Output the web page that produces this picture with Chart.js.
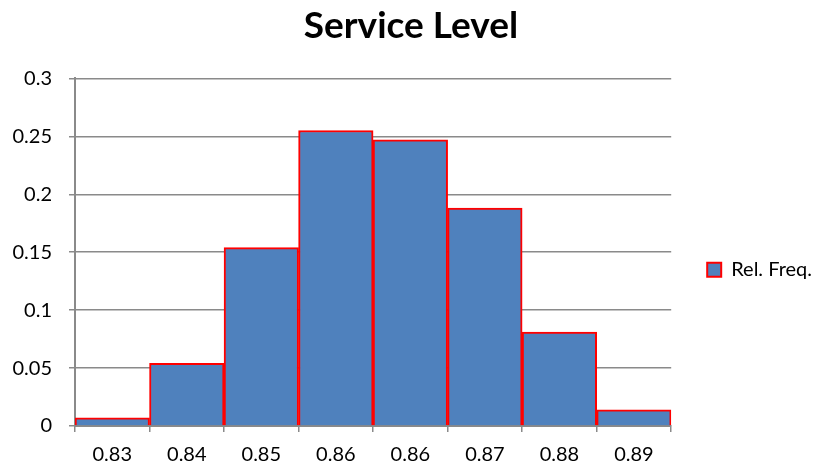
<!DOCTYPE html>
<html><head><meta charset="utf-8">
<script src="https://cdn.jsdelivr.net/npm/chart.js@4/dist/chart.umd.min.js"></script>
<style>html,body{margin:0;padding:0;background:#fff}#wrap{width:817px;height:467px}</style>
</head><body><div id="wrap"><canvas id="c" width="817" height="467"></canvas></div>
<script>
const categories = ["0.83","0.84","0.85","0.86","0.86","0.87","0.88","0.89"];
const relFreq = [0.007, 0.054, 0.154, 0.255, 0.247, 0.188, 0.081, 0.014];
const yTicks = [0, 0.05, 0.1, 0.15, 0.2, 0.25, 0.3];
const seriesName = "Rel. Freq.";
const chartTitle = "Service Level";

const FONT = "Lato, 'Open Sans', sans-serif";
const GRID = "#8a8a8a";
new Chart(document.getElementById('c'), {
  type: 'bar',
  data: { labels: categories, datasets: [{
    label: seriesName, data: relFreq,
    backgroundColor: '#4f81bd', borderColor: '#ff0000', borderWidth: 2,
    categoryPercentage: 1, barPercentage: 1
  }]},
  options: {
    responsive: false, animation: false,
    layout: { padding: { left: 0, right: -5, top: 0, bottom: 0 } },
    plugins: {
      title: { display: true, text: chartTitle, color: '#000',
        font: { family: FONT, size: 37, weight: 'bold' }, padding: { top: 4, bottom: 30 } },
      legend: { position: 'right',
        title: { display: true, text: ' ', font: { size: 12 }, padding: { top: 29, bottom: 29 } },
        labels: { color: '#000', boxWidth: 14, boxHeight: 14,
          font: { family: FONT, size: 20 }, padding: 36 } },
      tooltip: { enabled: false }
    },
    scales: {
      x: { grid: { offset: true, drawOnChartArea: false, color: GRID, lineWidth: 1.5, tickLength: 6 },
        border: { color: GRID, width: 2 },
        ticks: { color: '#000', font: { family: FONT, size: 20 }, padding: 11 },
        afterFit: s => { s.height = 41; } },
      y: { min: 0, max: 0.3, afterBuildTicks: s => { s.ticks = yTicks.map(v => ({ value: v })); },
        grid: { color: GRID, lineWidth: 1.5, tickLength: 6 },
        border: { color: GRID, width: 2 },
        ticks: { color: '#000', font: { family: FONT, size: 20 }, padding: 17,
          callback: v => String(v) },
        afterFit: s => { s.width = 75; } }
    }
  }
});
</script></body></html>
